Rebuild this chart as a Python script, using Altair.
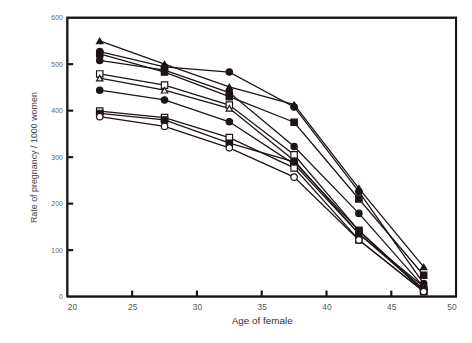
import altair as alt
import pandas as pd

ages = [22.5, 27.5, 32.5, 37.5, 42.5, 47.5]

series_names = ["A", "B", "C", "D", "E", "F", "G", "H", "I", "J"]
series_shapes = ["triangle-up", "circle", "square", "circle", "square",
                 "triangle-up", "circle", "square", "square", "circle"]
series_fills = ["#1e1418", "#1e1418", "#1e1418", "#1e1418", "white",
                "white", "#1e1418", "white", "#1e1418", "white"]

rate_a = [550, 500, 451, 413, 233, 64]
rate_b = [527, 494, 483, 408, 226, 28]
rate_c = [522, 483, 430, 375, 210, 46]
rate_d = [508, 487, 439, 323, 179, 21]
rate_e = [479, 455, 412, 305, 142, 11]
rate_f = [470, 444, 405, 293, 135, 21]
rate_g = [444, 423, 376, 285, 135, 15]
rate_h = [399, 385, 342, 277, 122, 11]
rate_i = [394, 380, 330, 290, 142, 15]
rate_j = [387, 366, 320, 257, 122, 11]

all_rates = [rate_a, rate_b, rate_c, rate_d, rate_e,
             rate_f, rate_g, rate_h, rate_i, rate_j]

y_ticks = [100, 200, 300, 400, 500]
x_ticks = [25, 30, 35, 40, 45]

rows = []
for name, rates in zip(series_names, all_rates):
    for k, (a, r) in enumerate(zip(ages, rates)):
        rows.append({"series": name, "age": a, "rate": r, "o": k, "kind": "data"})

# decoration: plot frame (closed path along the scale domain) and inward ticks
for k, (a, r) in enumerate(zip([20, 20, 50, 50, 20], [0, 600, 600, 0, 0])):
    rows.append({"series": "frame", "age": a, "rate": r, "o": k, "kind": "frame"})
for i, v in enumerate(y_ticks):
    rows.append({"series": f"ty{i}", "age": 20, "rate": v, "o": 0, "kind": "tick"})
    rows.append({"series": f"ty{i}", "age": 20.45, "rate": v, "o": 1, "kind": "tick"})
for i, v in enumerate(x_ticks):
    rows.append({"series": f"tx{i}", "age": v, "rate": 0, "o": 0, "kind": "tick"})
    rows.append({"series": f"tx{i}", "age": v, "rate": 13, "o": 1, "kind": "tick"})
df = pd.DataFrame(rows)

W, H = 393, 282
xs = alt.Scale(domain=[20, 50], nice=False, zero=False)
ys = alt.Scale(domain=[0, 600], nice=False)

axis_common = dict(grid=False, labelFont="Liberation Sans", titleFont="Liberation Sans",
                   domain=False, ticks=False)

x_axis = alt.Axis(values=[20, 25, 30, 35, 40, 45, 50], title="Age of female",
                  labelFontSize=8.5, labelColor="#555555", labelPadding=6,
                  titleFontSize=10, titleFontWeight="normal", titleColor="#333333",
                  titlePadding=5, **axis_common)
y_axis = alt.Axis(values=[0, 100, 200, 300, 400, 500, 600],
                  title="Rate of pregnancy / 1000 women",
                  labelFontSize=7, labelColor="#666666", labelPadding=5,
                  titleFontSize=9, titleFontWeight="normal", titleColor="#444444",
                  titlePadding=13, **axis_common)

lines = alt.Chart(df).mark_line(color="#1e1418").encode(
    x=alt.X("age:Q", scale=xs, axis=x_axis),
    y=alt.Y("rate:Q", scale=ys, axis=y_axis),
    detail="series:N",
    order=alt.Order("o:Q"),
    strokeWidth=alt.StrokeWidth("kind:N",
                                scale=alt.Scale(domain=["data", "frame", "tick"],
                                                range=[1.3, 2.2, 1.6]),
                                legend=None),
)

points = alt.Chart(df).transform_filter(
    alt.datum.kind == "data"
).mark_point(filled=True, stroke="#1e1418", strokeWidth=1.2, size=42, opacity=1).encode(
    x=alt.X("age:Q", scale=xs),
    y=alt.Y("rate:Q", scale=ys),
    shape=alt.Shape("series:N", scale=alt.Scale(domain=series_names, range=series_shapes),
                    legend=None),
    fill=alt.Fill("series:N", scale=alt.Scale(domain=series_names, range=series_fills),
                  legend=None),
)

chart = alt.layer(lines, points).properties(
    width=W, height=H,
    padding={"left": 21, "top": 4, "right": 4, "bottom": 4},
).configure_view(stroke="black", strokeWidth=2)

chart.save("out.html", embed_options={"renderer": "svg", "actions": False})
